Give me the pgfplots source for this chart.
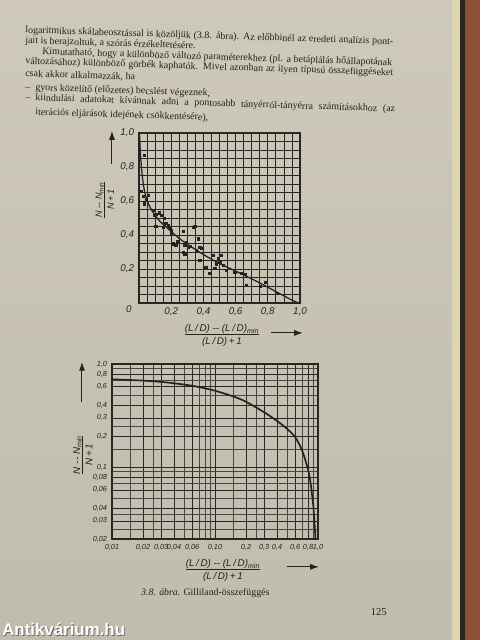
\documentclass[border=0pt]{standalone}
\usepackage{pgfplots}
\pgfplotsset{compat=1.18}
\usetikzlibrary{arrows.meta}
\usepackage{fontspec}
\setmainfont{Liberation Serif}
\newfontfamily\labfont{Liberation Sans}
\definecolor{pagetop}{RGB}{206,201,186}
\definecolor{pagebot}{RGB}{192,188,174}
\definecolor{edgepale}{RGB}{222,212,176}
\definecolor{edgedark}{RGB}{45,38,32}
\definecolor{edgebrown}{RGB}{140,80,52}
\definecolor{ink}{RGB}{38,34,30}
\definecolor{gridc}{RGB}{40,38,36}
\newcommand{\bodyfont}{\fontsize{7.1}{8}\selectfont}
\newcommand{\labf}{\labfont\itshape\fontsize{7}{8}\selectfont}
\newcommand{\fracl}[2]{\begin{tabular}{@{}c@{}}#1\\[-1pt]\hline\rule{0pt}{7pt}#2\end{tabular}}
\begin{document}
\begin{tikzpicture}
\useasboundingbox (0,0) rectangle (12,16);
\shade[top color=pagetop, bottom color=pagebot] (0,0) rectangle (11.3,16);
\fill[edgepale] (11.3,0) rectangle (11.5,16);
\fill[edgedark] (11.5,0) rectangle (11.62,16);
\fill[edgebrown] (11.62,0) rectangle (12,16);

% ---------- top chart (linear) ----------
\begin{axis}[
  at={(3.475cm,8.425cm)}, anchor=south west,
  scale only axis, width=4.025cm, height=4.25cm,
  xmin=0, xmax=1, ymin=0, ymax=1,
  xtick={0.2,0.4,0.6,0.8,1},
  xticklabels={{0,2},{0,4},{0,6},{0,8},{1,0}},
  ytick={0.2,0.4,0.6,0.8,1},
  yticklabels={{0,2},{0,4},{0,6},{0,8},{1,0}},
  minor xtick={0.05,0.1,0.15,0.25,0.3,0.35,0.45,0.5,0.55,0.65,0.7,0.75,0.85,0.9,0.95},
  minor ytick={0.05,0.1,0.15,0.25,0.3,0.35,0.45,0.5,0.55,0.65,0.7,0.75,0.85,0.9,0.95},
  grid=both,
  major grid style={gridc, line width=0.55pt},
  minor grid style={gridc, line width=0.55pt},
  major tick length=0pt, minor tick length=0pt,
  axis line style={gridc, line width=0.8pt},
  tick label style={font=\labf, text=ink},
  clip=false,
]
\addplot[ink, line width=0.9pt, smooth, tension=0.5] coordinates {
 (0.003,1.0) (0.006,0.93) (0.01,0.86) (0.015,0.80) (0.02,0.75) (0.03,0.68)
 (0.04,0.635) (0.06,0.58) (0.08,0.545) (0.10,0.515) (0.13,0.48) (0.16,0.455)
 (0.20,0.42) (0.25,0.38) (0.30,0.345) (0.35,0.315) (0.40,0.285) (0.45,0.258)
 (0.50,0.232) (0.55,0.21) (0.60,0.188) (0.65,0.165) (0.70,0.142) (0.75,0.118)
 (0.80,0.093) (0.85,0.067) (0.90,0.042) (0.95,0.017) (0.99,0.0)
};
\addplot[only marks, mark=square*, mark size=0.8pt, ink] coordinates {
 (0.031,0.869) (0.015,0.657) (0.025,0.627) (0.031,0.584) (0.046,0.608)
 (0.056,0.633) (0.087,0.545) (0.098,0.516) (0.108,0.520) (0.124,0.530)
 (0.139,0.516) (0.104,0.451) (0.149,0.447) (0.170,0.467) (0.156,0.500)
 (0.180,0.457) (0.191,0.443) (0.201,0.427) (0.212,0.349) (0.228,0.343)
 (0.274,0.422) (0.284,0.339) (0.295,0.359) (0.305,0.329) (0.274,0.300)
 (0.284,0.290) (0.336,0.447) (0.346,0.451) (0.367,0.378) (0.378,0.329)
 (0.388,0.320) (0.357,0.310) (0.378,0.251) (0.409,0.212) (0.419,0.212)
 (0.440,0.173) (0.461,0.280) (0.471,0.202) (0.492,0.261) (0.502,0.241)
 (0.512,0.280) (0.481,0.231) (0.523,0.222) (0.544,0.192) (0.595,0.182)
 (0.637,0.176) (0.658,0.169) (0.668,0.104) (0.751,0.100) (0.782,0.120)
 (0.855,0.055) (0.200,0.410) (0.240,0.365) (0.320,0.335) (0.160,0.470)
};
\node[font=\labf, text=ink, anchor=north east, inner sep=1pt] at (axis cs:0,0) [xshift=-4pt,yshift=-1pt] {0};
\end{axis}

% ---------- bottom chart (log-log) ----------
\begin{axis}[
  at={(2.8cm,2.525cm)}, anchor=south west,
  scale only axis, width=5.15cm, height=4.375cm,
  xmode=log, ymode=log,
  xmin=0.01, xmax=1, ymin=0.02, ymax=1,
  xtick={0.01,0.02,0.03,0.04,0.06,0.1,0.2,0.3,0.4,0.6,0.8,1},
  xticklabels={{0,01},{0,02},{0,03},{0,04},{0,06},{0,10},{0,2},{0,3},{0,4},{0,6},{0,8},{1,0}},
  ytick={0.02,0.03,0.04,0.06,0.08,0.1,0.2,0.3,0.4,0.6,0.8,1},
  yticklabels={{0,02},{0,03},{0,04},{0,06},{0,08},{0,1},{0,2},{0,3},{0,4},{0,6},{0,8},{1,0}},
  minor xtick={0.015,0.025,0.05,0.07,0.08,0.09,0.15,0.25,0.5,0.7,0.9},
  minor ytick={0.025,0.035,0.05,0.07,0.09,0.15,0.25,0.5,0.7,0.9},
  grid=both,
  major grid style={gridc, line width=0.5pt},
  minor grid style={gridc!85, line width=0.45pt},
  major tick length=0pt, minor tick length=0pt,
  axis line style={gridc, line width=0.8pt},
  tick label style={font=\labfont\itshape\fontsize{5.2}{6}\selectfont, text=ink},
]
\addplot[ink, line width=1.2pt, smooth] coordinates {
 (0.01,0.71) (0.02,0.69) (0.03,0.67) (0.04,0.65) (0.06,0.615) (0.08,0.58)
 (0.1,0.55) (0.15,0.485) (0.2,0.43) (0.3,0.34) (0.4,0.28) (0.5,0.235)
 (0.6,0.195) (0.7,0.145) (0.8,0.095) (0.85,0.068) (0.9,0.042) (0.93,0.026)
 (0.945,0.02)
};
\end{axis}

% ---------- page text, labels, arrows (pixel coordinates, y negated) ----------
\begin{scope}[x=0.025cm, y=0.025cm, yshift=16cm, text=ink]
 \begin{scope}[every node/.style={anchor=base west, rotate=-1.8, inner sep=0, font=\bodyfont}]
  \node at (25,-33) {\makebox[9.2cm][s]{logaritmikus skálabeosztással is közöljük (3.8. ábra). Az előbbinél az eredeti analízis pont-}};
  \node at (25,-43.5) {jait is berajzoltuk, a szórás érzékeltetésére.};
  \node at (42,-54.5) {\makebox[8.75cm][s]{Kimutatható, hogy a különböző változó paraméterekhez (pl. a betáplálás hőállapotának}};
  \node at (25,-64) {\makebox[9.2cm][s]{változásához) különböző görbék kaphatók. Mivel azonban az ilyen típusú összefüggéseket}};
  \node at (25,-76.7) {csak akkor alkalmazzák, ha};
  \node at (25,-90.7) {--};
  \node at (35,-90.7) {gyors közelítő (előzetes) becslést végeznek,};
  \node at (25,-100.7) {--};
  \node at (35,-100.7) {\makebox[9.0cm][s]{kiindulási adatokat kívánnak adni a pontosabb tányérról-tányérra számításokhoz (az}};
  \node at (35,-115) {iterációs eljárások idejének csökkentésére),};
 \end{scope}

 % top chart labels
 \node[rotate=90, font=\labfont\itshape\fontsize{6.5}{7}\selectfont, inner sep=0] at (106,-200)
   {\fracl{N -- N\textsubscript{min}}{N\,+\,1}};
 \draw[ink, line width=0.7pt, -{Latex[length=2.2mm,width=1.5mm]}] (112,-164) -- (112,-131);
 \node[font=\labf, inner sep=0] at (222,-336)
   {\fracl{(L\,/\,D) -- (L\,/\,D)\textsubscript{min}}{(L\,/\,D)\,+\,1}};
 \draw[ink, line width=0.7pt, -{Latex[length=2.2mm,width=1.5mm]}] (271,-333) -- (303,-333);

 % bottom chart labels
 \node[rotate=90, font=\labfont\itshape\fontsize{7}{8}\selectfont, inner sep=0] at (84,-455)
   {\fracl{N -- N\textsubscript{min}}{N\,+\,1}};
 \draw[ink, line width=0.7pt, -{Latex[length=2.2mm,width=1.5mm]}] (82,-402) -- (82,-362);
 \node[font=\labf, inner sep=0] at (223,-571)
   {\fracl{(L\,/\,D) -- (L\,/\,D)\textsubscript{min}}{(L\,/\,D)\,+\,1}};
 \draw[ink, line width=0.7pt, -{Latex[length=2.2mm,width=1.5mm]}] (287,-567) -- (319,-567);

 % caption and page number
 \node[anchor=base west, inner sep=0, font=\fontsize{7}{8}\selectfont] at (141,-596)
   {\textit{3.8. ábra.} Gilliland-összefüggés};
 \node[anchor=base east, inner sep=0, font=\fontsize{7.5}{9}\selectfont] at (387,-616) {125};

 % watermark
 \node[anchor=base west, inner sep=0, text=black!60, font=\labfont\bfseries\fontsize{12}{13}\selectfont] at (2.8,-636.8) {Antikvárium.hu};
 \node[anchor=base west, inner sep=0, text=white, font=\labfont\bfseries\fontsize{12}{13}\selectfont] at (2,-636) {Antikvárium.hu};
\end{scope}
\end{tikzpicture}
\end{document}
